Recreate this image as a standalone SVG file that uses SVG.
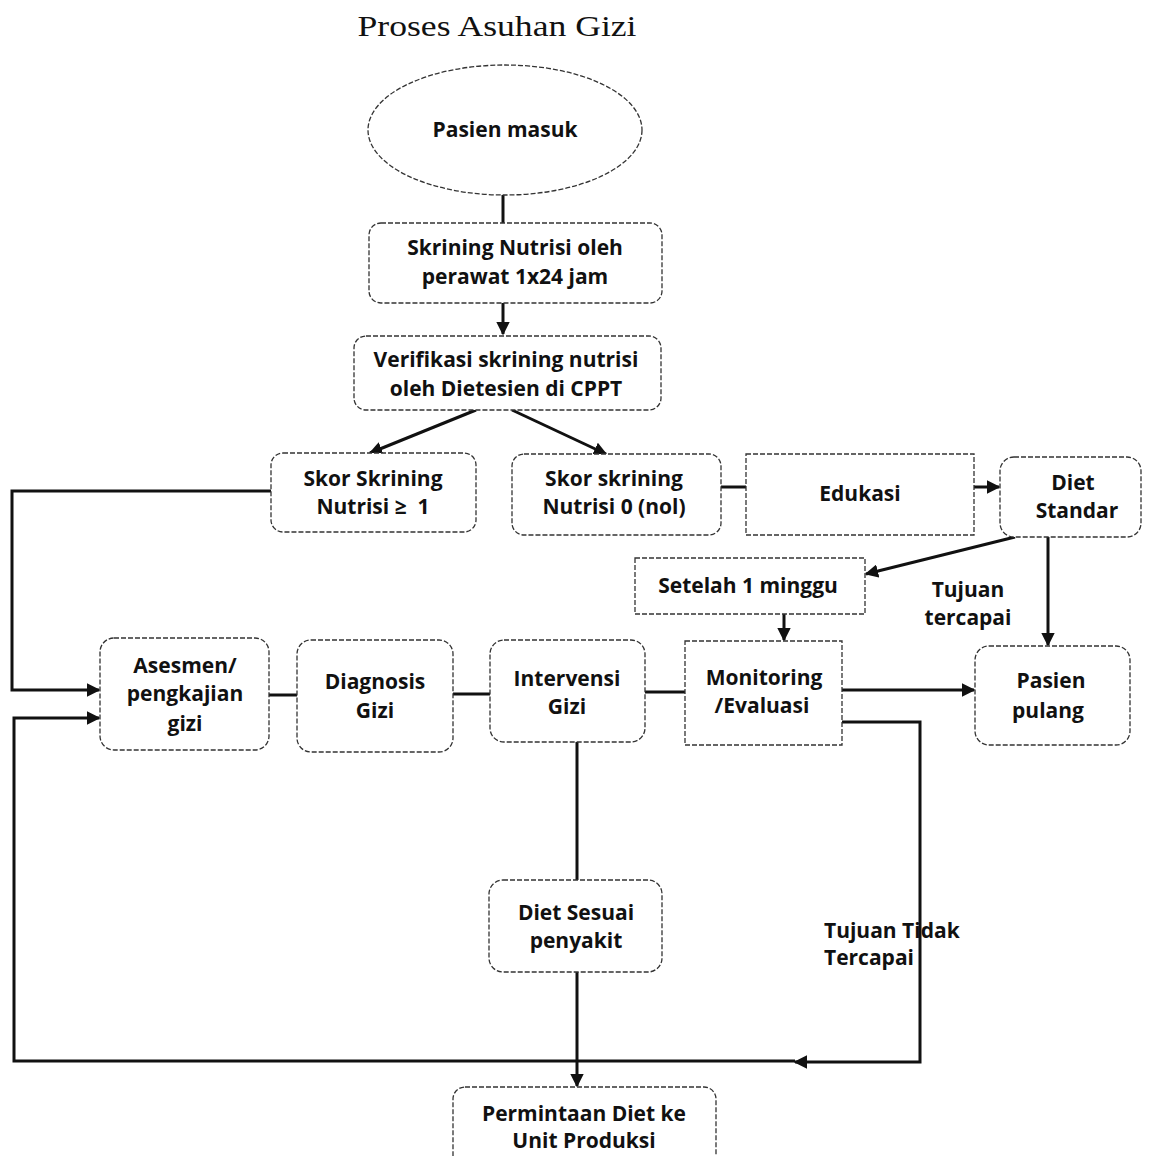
<svg xmlns="http://www.w3.org/2000/svg" width="1159" height="1156" viewBox="0 0 1159 1156">
<style>
.bg{fill:#fff}
.n{fill:#fff;stroke:#333;stroke-width:1.3;stroke-dasharray:5 2}
.t{font-family:"Open Sans",Lato,"Liberation Sans",sans-serif;font-weight:bold;font-size:21px;fill:#111;text-anchor:middle}
.title{font-family:"Liberation Serif",serif;font-size:29px;fill:#111;text-anchor:middle}
.c{fill:none;stroke:#111;stroke-width:3}
.ca{fill:none;stroke:#111;stroke-width:3;marker-end:url(#ah)}
</style>
<defs>
<marker id="ah" viewBox="0 0 10 10" refX="9" refY="5" markerWidth="4.5" markerHeight="4.5" orient="auto" markerUnits="strokeWidth">
<path d="M0,0 L10,5 L0,10 z" fill="#111"/>
</marker>
</defs>
<rect class="bg" width="1159" height="1156"/>
<text class="title" x="497" y="36" textLength="279" lengthAdjust="spacingAndGlyphs">Proses Asuhan Gizi</text>

<g id="connectors">
<path class="c" d="M503,195 V225"/>
<path class="ca" d="M503,303 V334"/>
<path class="ca" d="M476,410 L370,453"/>
<path class="ca" d="M512,410 L606,454"/>
<path class="c" d="M721,487 H746"/>
<path class="ca" d="M974,487 H999"/>
<path class="ca" d="M1015,537 L866,574"/>
<path class="ca" d="M1048,537 V645"/>
<path class="ca" d="M784,614 V640"/>
<path class="ca" d="M842,690 H974"/>
<path class="c" d="M842,722 H920 V1062 H860"/>
<path class="ca" d="M860,1062 H795"/>
<path class="c" d="M795,1061 H14 V718 H60"/>
<path class="ca" d="M60,718 H99"/>
<path class="c" d="M271,491 H12 V690 H60"/>
<path class="ca" d="M60,690 H99"/>
<path class="c" d="M269,695 H297"/>
<path class="c" d="M453,694 H490"/>
<path class="c" d="M645,692 H685"/>
<path class="c" d="M577,742 V880"/>
<path class="ca" d="M577,972 V1086"/>
</g>

<g id="pasien-masuk"><ellipse class="n" cx="505" cy="130" rx="137" ry="65"/><text class="t" x="505" y="137">Pasien masuk</text></g>
<g id="skrining"><rect class="n" x="369" y="223" width="293" height="80" rx="12"/><text class="t" x="515" y="255">Skrining Nutrisi oleh</text><text class="t" x="515" y="284">perawat 1x24 jam</text></g>
<g id="verifikasi"><rect class="n" x="354" y="336" width="307" height="74" rx="12"/><text class="t" x="506" y="367">Verifikasi skrining nutrisi</text><text class="t" x="506" y="396">oleh Dietesien di CPPT</text></g>
<g id="skor1"><rect class="n" x="271" y="453" width="205" height="79" rx="12"/><text class="t" x="373" y="486">Skor Skrining</text><text class="t" x="373" y="514">Nutrisi ≥&#160; 1</text></g>
<g id="skor0"><rect class="n" x="512" y="454" width="209" height="81" rx="12"/><text class="t" x="614" y="486">Skor skrining</text><text class="t" x="614" y="514">Nutrisi 0 (nol)</text></g>
<g id="edukasi"><rect class="n" x="746" y="454" width="228" height="81"/><text class="t" x="860" y="501">Edukasi</text></g>
<g id="diet-standar"><rect class="n" x="1000" y="457" width="141" height="80" rx="14"/><text class="t" x="1073" y="490">Diet</text><text class="t" x="1077" y="518">Standar</text></g>
<g id="setelah"><rect class="n" x="635" y="558" width="230" height="56"/><text class="t" x="748" y="593">Setelah 1 minggu</text></g>
<text class="t" x="968" y="597">Tujuan</text>
<text class="t" x="968" y="625">tercapai</text>
<g id="asesmen"><rect class="n" x="100" y="638" width="169" height="112" rx="14"/><text class="t" x="185" y="673">Asesmen/</text><text class="t" x="185" y="701">pengkajian</text><text class="t" x="185" y="731">gizi</text></g>
<g id="diagnosis"><rect class="n" x="297" y="640" width="156" height="112" rx="14"/><text class="t" x="375" y="689">Diagnosis</text><text class="t" x="375" y="718">Gizi</text></g>
<g id="intervensi"><rect class="n" x="490" y="640" width="155" height="102" rx="14"/><text class="t" x="567" y="686">Intervensi</text><text class="t" x="567" y="714">Gizi</text></g>
<g id="monitoring"><rect class="n" x="685" y="641" width="157" height="104"/><text class="t" x="764" y="685">Monitoring</text><text class="t" x="762" y="713">/Evaluasi</text></g>
<g id="pasien-pulang"><rect class="n" x="975" y="646" width="155" height="99" rx="14"/><text class="t" x="1051" y="688">Pasien</text><text class="t" x="1048" y="718">pulang</text></g>
<g id="diet-sesuai"><rect class="n" x="489" y="880" width="173" height="92" rx="14"/><text class="t" x="576" y="920">Diet Sesuai</text><text class="t" x="576" y="948">penyakit</text></g>
<text class="t" x="824" y="938" style="text-anchor:start">Tujuan Tidak</text>
<text class="t" x="824" y="965" style="text-anchor:start">Tercapai</text>
<g id="permintaan"><rect class="n" x="453" y="1087" width="263" height="90" rx="12"/><text class="t" x="584" y="1121">Permintaan Diet ke</text><text class="t" x="584" y="1148">Unit Produksi</text></g>
</svg>
